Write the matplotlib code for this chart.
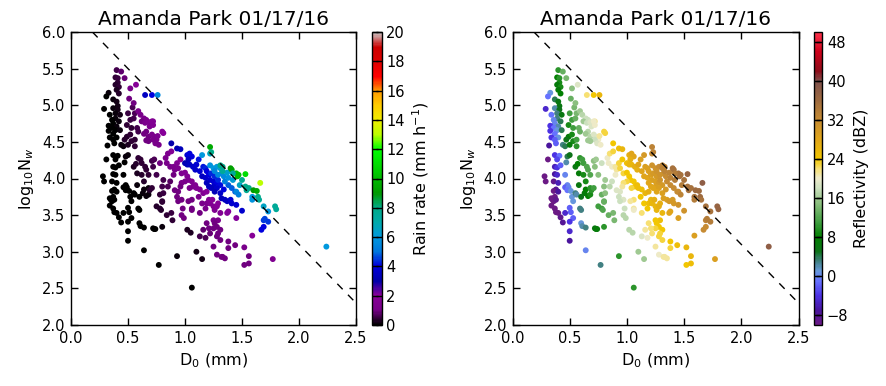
import numpy as np
import matplotlib
matplotlib.use("Agg")
import matplotlib.pyplot as plt
from matplotlib.colors import LinearSegmentedColormap, Normalize

# ---------------- data ----------------
title = "Amanda Park 01/17/16"

d0 = [
    # low-rate cluster
    0.40,0.44,0.39,0.41,0.47,0.41,0.39,0.42,0.40,0.42,
    0.33,0.31,0.37,0.40,0.41,0.29,0.37,0.41,0.39,0.43,
    0.34,0.39,0.36,0.42,0.37,0.33,0.40,0.36,0.39,0.33,
    0.43,0.37,0.34,0.40,0.37,0.38,0.32,0.44,0.46,0.37,
    0.41,0.31,0.39,0.48,0.50,0.37,0.39,0.42,0.47,0.28,
    0.29,0.37,0.39,0.46,0.36,0.40,0.48,0.46,0.49,0.38,
    0.36,0.40,0.48,0.51,0.37,0.34,0.35,0.36,0.38,0.52,
    0.55,0.56,0.53,0.34,0.37,0.38,0.40,0.42,0.46,0.44,
    0.50,0.51,0.53,0.50,0.50,0.50,0.59,0.60,0.60,0.61,
    0.64,0.72,0.73,0.74,0.80,0.64,0.77,0.93,1.06,1.02,
    1.05,1.10,1.15,0.66,0.63,0.60,0.58,0.64,0.68,0.68,
    # dark purple
    0.49,0.52,0.47,0.53,0.56,0.49,0.53,0.52,0.55,0.50,
    0.54,0.56,0.58,0.59,0.56,0.50,0.59,0.61,0.62,0.55,
    0.57,0.65,0.66,0.71,0.73,0.72,0.58,0.62,0.68,0.64,
    0.69,0.71,0.75,0.81,0.80,0.78,0.81,0.80,0.75,0.78,
    0.79,0.80,0.88,0.89,0.84,0.85,0.87,
    # purple
    0.52,0.57,0.51,0.55,0.59,0.61,0.64,0.66,0.62,0.65,
    0.68,0.72,0.69,0.72,0.71,0.66,0.64,0.68,0.71,0.73,
    0.75,0.72,0.74,0.68,0.76,0.80,0.81,0.77,0.66,0.83,
    0.85,0.88,0.78,0.84,0.87,0.90,0.91,0.93,0.96,0.94,
    0.90,0.97,1.00,1.02,1.03,1.00,0.97,0.96,0.94,0.91,
    0.93,0.97,0.94,0.98,0.97,0.99,1.06,1.07,1.09,1.10,
    1.04,1.13,1.06,1.03,1.06,1.06,1.13,1.15,1.18,1.19,
    1.21,1.22,1.24,1.25,1.26,1.28,1.29,1.31,1.29,1.25,
    1.26,1.28,1.25,1.31,1.29,1.28,1.31,1.25,1.28,1.33,
    1.35,1.32,1.38,1.38,1.44,1.52,1.56,1.52,1.56,1.59,
    1.77,1.45,1.37,1.38,1.18,1.13,1.21,1.16,1.22,1.19,
    1.12,1.16,1.19,
    # blue
    0.65,0.71,0.76,0.88,0.93,0.96,1.02,1.04,1.06,1.03,
    1.00,1.02,1.04,1.07,1.10,1.09,1.13,1.12,1.15,1.16,
    1.18,1.19,1.15,1.18,1.21,1.22,1.23,1.25,1.26,1.28,
    1.25,1.23,1.21,1.19,1.29,1.31,1.28,1.26,1.31,1.32,
    1.35,1.37,1.40,1.41,1.45,1.50,1.34,1.38,1.41,1.44,
    1.67,1.69,1.69,1.70,1.73,
    # light blue
    1.22,1.25,1.28,1.31,1.32,1.34,1.35,1.38,1.37,1.26,
    1.29,1.45,1.47,1.48,1.42,1.59,1.59,1.69,1.73,2.24,
    1.22,
    # teal / green
    1.22,1.23,1.31,1.33,1.40,1.41,1.45,1.47,1.53,1.46,
    1.53,1.56,1.54,1.60,1.63,1.64,1.65,1.66,1.79,1.80,
    1.33,1.42,1.50,
]

lognw = [
    5.48,5.46,5.38,5.37,5.37,5.31,5.28,5.25,5.21,5.16,
    5.17,5.12,5.08,5.05,4.99,4.95,4.96,4.94,4.89,4.87,
    4.87,4.82,4.80,4.78,4.75,4.72,4.71,4.69,4.66,4.65,
    4.66,4.61,4.56,4.56,4.53,4.48,4.45,4.46,4.44,4.32,
    4.31,4.26,4.26,4.30,4.32,4.16,4.15,4.18,4.22,4.03,
    3.96,4.06,4.05,4.05,3.96,3.94,3.91,3.88,3.88,3.85,
    3.83,3.82,3.84,3.83,3.75,3.73,3.71,3.69,3.71,3.75,
    3.80,3.78,3.69,3.63,3.59,3.54,3.53,3.47,3.53,3.40,
    3.60,3.54,3.46,3.41,3.28,3.15,3.59,3.57,3.39,3.35,
    3.33,3.32,3.31,3.31,3.34,3.02,2.82,2.94,2.51,3.30,
    3.26,3.00,2.90,3.76,3.80,3.75,3.91,3.85,3.78,3.87,
    4.57,4.60,4.53,4.51,4.53,4.73,4.69,4.80,4.82,4.89,
    4.97,4.89,4.69,4.64,4.44,4.46,4.28,4.26,4.21,4.16,
    4.20,4.16,4.12,4.24,4.26,4.16,4.07,4.05,4.05,3.96,
    3.84,3.87,4.05,3.98,3.89,3.78,3.80,3.69,3.62,3.59,
    3.57,3.68,3.53,3.43,3.50,3.89,3.96,
    5.23,5.28,5.09,5.03,4.92,4.87,4.82,4.80,4.78,4.76,
    4.77,4.78,4.71,4.73,4.78,4.64,4.61,4.57,4.60,4.57,
    4.53,4.53,4.48,4.51,4.58,4.64,4.62,4.46,4.52,4.28,
    4.34,4.37,4.21,4.21,4.16,4.16,4.12,4.21,4.26,4.14,
    4.05,4.07,4.08,4.03,3.98,3.96,3.94,3.89,3.82,3.84,
    3.75,3.71,3.69,3.59,3.50,3.46,3.96,3.89,3.91,3.87,
    3.87,3.85,3.71,3.69,3.59,3.57,3.53,3.66,3.59,3.66,
    3.71,3.66,3.71,3.62,3.57,3.62,3.66,3.53,3.43,3.43,
    3.39,3.34,3.32,3.30,3.25,3.21,3.16,3.07,2.96,2.93,
    2.91,2.93,3.14,3.05,3.09,3.06,2.94,2.82,2.84,3.22,
    2.90,3.46,3.53,3.55,3.19,3.21,3.32,3.30,3.25,3.39,
    3.75,3.80,3.82,
    5.14,5.14,5.14,4.48,4.41,4.40,4.32,4.34,4.30,4.26,
    4.21,4.19,4.19,4.16,4.19,4.12,4.10,4.26,4.32,4.16,
    4.14,4.10,4.03,4.01,4.05,3.98,4.07,3.96,4.03,3.94,
    3.89,3.87,3.89,3.94,3.98,3.91,3.87,3.82,3.80,3.73,
    3.71,3.69,3.71,3.66,3.64,3.56,3.85,3.91,3.87,3.82,
    3.30,3.34,3.43,3.45,3.41,
    4.18,4.14,4.16,4.14,4.07,4.03,3.96,4.01,4.08,4.10,
    4.05,3.82,3.78,3.91,3.98,3.75,3.71,3.62,3.55,3.07,
    4.34,
    4.43,4.36,4.18,4.16,4.14,4.12,4.07,4.05,4.06,4.03,
    3.89,3.87,3.84,3.84,3.83,3.75,3.71,3.94,3.62,3.58,
    4.10,4.07,3.98,
]

rain_rate = [
    0.55,0.8,0.45,0.5,0.9,0.45,0.35,0.4,0.3,0.35,
    0.1,0.07,0.15,0.2,0.2,0.04,0.12,0.18,0.13,0.2,
    0.06,0.1,0.07,0.14,0.07,0.04,0.09,0.05,0.07,0.03,
    0.11,0.05,0.03,0.06,0.04,0.04,0.02,0.08,0.09,0.03,
    0.04,0.01,0.03,0.08,0.1,0.02,0.02,0.03,0.06,0.004,
    0.004,0.014,0.017,0.04,0.01,0.015,0.03,0.026,0.034,0.01,
    0.007,0.011,0.028,0.037,0.007,0.004,0.005,0.005,0.007,0.033,
    0.05,0.05,0.03,0.003,0.005,0.005,0.006,0.006,0.011,0.007,
    0.02,0.019,0.019,0.013,0.009,0.007,0.04,0.04,0.03,0.03,
    0.033,0.056,0.06,0.063,0.1,0.016,0.025,0.08,0.054,0.28,
    0.29,0.19,0.19,0.1,0.09,0.065,0.08,0.11,0.13,0.15,
    0.35,0.4,0.35,0.4,0.45,0.4,0.45,0.5,0.6,0.5,
    0.7,0.7,0.55,0.55,0.4,0.3,0.4,0.45,0.45,0.3,
    0.35,0.45,0.45,0.6,0.65,0.55,0.3,0.35,0.45,0.35,
    0.35,0.4,0.55,0.6,0.55,0.45,0.5,0.45,0.35,0.35,
    0.35,0.45,0.5,0.45,0.4,0.65,0.75,
    1.1,1.8,1.0,1.0,1.1,1.1,1.2,1.3,1.0,1.2,
    1.4,1.7,1.3,1.6,1.6,1.0,1.0,1.0,1.2,1.2,
    1.3,1.1,1.1,1.0,1.4,2.0,2.0,1.2,1.0,1.2,
    1.4,1.7,1.0,1.1,1.1,1.3,1.2,1.6,2.0,1.4,
    1.0,1.4,1.6,1.6,1.5,1.3,1.1,1.0,1.0,1.0,
    1.0,1.0,1.0,1.0,1.0,1.0,1.6,1.5,1.6,1.6,
    1.2,1.7,1.0,1.0,1.0,1.0,1.0,1.2,1.2,1.4,
    1.7,1.6,1.9,1.6,1.5,1.8,2.0,1.6,1.2,1.1,
    1.0,1.0,1.0,1.0,1.0,1.0,1.0,1.0,1.0,1.0,
    1.0,1.0,1.0,1.0,1.0,1.1,1.0,1.0,1.0,1.9,
    1.5,2.1,2.0,2.1,0.7,0.6,1.0,0.8,0.9,1.0,
    1.3,1.7,2.0,
    3.5,4.0,5.5,3.0,3.2,3.3,3.8,4.0,4.0,3.5,
    3.2,3.3,3.5,3.6,3.8,3.6,3.8,4.2,6.0,4.2,
    4.3,4.0,3.5,3.6,4.0,3.8,4.3,3.8,4.3,4.0,
    3.6,3.4,3.4,3.4,4.3,4.1,3.7,3.3,3.6,3.3,
    3.5,3.5,3.8,3.7,3.8,3.7,4.0,4.8,4.8,4.7,
    4.0,4.0,4.5,4.6,4.5,
    5.8,6.0,6.0,6.3,5.8,5.6,5.3,5.8,6.3,5.5,
    5.5,5.5,5.3,6.5,6.2,6.0,5.8,6.5,6.0,6.0,
    6.5,
    9.5,8.0,8.0,8.0,9.0,9.3,10.0,10.0,11.0,10.0,
    8.0,8.0,7.8,9.0,9.5,8.0,7.6,13.0,7.5,7.5,
    7.5,7.5,7.8,
]

reflectivity = [
    10,13,8,10,14,9,7,9,7,8,
    1,-1,4,6,6,-5,2,5,3,6,
    -1,3,0,4,0,-4,2,-1,1,-4,
    4,-1,-4,1,-2,-2,-7,3,4,-4,
    -1,-10,-3,4,5,-6,-4,-2,2,-15,
    -15,-7,-5,0,-9,-6,0,-2,0,-8,
    -10,-7,-1,1,-10,-12,-12,-11,-9,1,
    3,2,1,-13,-11,-11,-10,-9,-5,-8,
    -2,-2,-2,-4,-5,-7,3,3,1,2,
    3,6,7,7,10,0,3,10,10,17,
    17,16,16,8,7,5,6,8,9,10,
    7,9,5,9,11,9,11,11,13,11,
    14,14,13,13,10,7,10,11,11,6,
    8,12,12,15,16,15,7,9,12,9,
    10,11,15,16,15,13,15,13,11,11,
    12,13,14,14,13,17,18,
    15,19,13,15,16,17,18,18,16,18,
    19,21,19,20,20,17,16,17,19,19,
    20,18,19,16,21,23,23,20,16,20,
    22,23,18,20,20,21,21,23,24,23,
    20,23,24,24,24,23,22,21,19,19,
    18,19,18,18,17,17,24,24,25,25,
    23,25,22,21,21,20,22,24,24,25,
    26,26,27,26,26,27,27,26,25,24,
    24,24,23,24,23,23,23,21,20,21,
    21,21,24,23,25,26,26,24,25,29,
    29,29,28,28,20,19,22,21,22,22,
    24,26,27,
    22,24,26,24,25,26,27,28,28,27,
    25,26,26,27,28,27,28,29,30,29,
    29,29,28,28,29,29,30,29,30,30,
    29,28,28,28,31,30,29,28,29,29,
    29,30,30,30,31,31,30,32,32,32,
    32,32,33,34,34,
    31,31,32,33,32,32,32,33,33,31,
    31,32,33,34,34,35,34,35,35,38,
    32,
    33,33,33,33,35,35,35,35,37,35,
    35,35,35,36,36,36,35,38,37,37,
    33,34,35,
]

# reference separation line  log10Nw = 6.3 - 1.6 D0
line_intercept = 6.3
line_slope = -1.6

rain_ticks = [0, 2, 4, 6, 8, 10, 12, 14, 16, 18, 20]
refl_ticks = [-8, 0, 8, 16, 24, 32, 40, 48]

assert len(d0) == len(lognw) == len(rain_rate) == len(reflectivity), \
    (len(d0), len(lognw), len(rain_rate), len(reflectivity))

# ---------------- styling ----------------
plt.rcParams['font.family'] = ['DejaVu Sans']
plt.rcParams['mathtext.fontset'] = 'dejavusans'

refl_stops = [
    (-10, (0.42, 0.10, 0.52)), (-7, (0.28, 0.08, 0.62)), (-4, (0.30, 0.20, 0.90)),
    (-1, (0.40, 0.45, 1.00)), (1, (0.40, 0.60, 0.85)), (3, (0.25, 0.50, 0.50)),
    (5, (0.05, 0.45, 0.10)), (8, (0.00, 0.50, 0.00)), (11, (0.25, 0.62, 0.25)),
    (15, (0.55, 0.75, 0.50)), (18, (0.80, 0.88, 0.75)), (20, (0.93, 0.92, 0.80)),
    (22, (0.97, 0.88, 0.45)), (24, (0.95, 0.78, 0.00)), (28, (0.88, 0.65, 0.10)),
    (32, (0.78, 0.55, 0.20)), (36, (0.62, 0.42, 0.25)), (40, (0.50, 0.32, 0.30)),
    (42, (0.55, 0.05, 0.10)), (46, (0.80, 0.00, 0.10)), (50, (1.00, 0.20, 0.30)),
]
zmin, zmax = -10, 50
refl_cmap = LinearSegmentedColormap.from_list(
    'refl', [((v - zmin) / (zmax - zmin), c) for v, c in refl_stops])

fig = plt.figure(figsize=(8.86, 3.86), dpi=100)
W, H = 886.0, 386.0
ax_bottom = (H - 325) / H
ax_height = 293 / H
ax1 = fig.add_axes([71 / W, ax_bottom, 285 / W, ax_height])
cax1 = fig.add_axes([372 / W, ax_bottom, 9.5 / W, ax_height])
ax2 = fig.add_axes([512.5 / W, ax_bottom, 286 / W, ax_height])
cax2 = fig.add_axes([813.5 / W, ax_bottom, 8.5 / W, ax_height])

xs_line = np.array([0.0, 2.5])

panels = [
    (ax1, cax1, rain_rate, plt.get_cmap('nipy_spectral'), Normalize(0, 20),
     rain_ticks, r'Rain rate (mm h$^{-1}$)'),
    (ax2, cax2, reflectivity, refl_cmap, Normalize(zmin, zmax),
     refl_ticks, 'Reflectivity (dBZ)'),
]

for ax, cax, cvals, cmap, norm, cticks, clabel in panels:
    sc = ax.scatter(d0, lognw, c=cvals, cmap=cmap, norm=norm, s=18,
                    edgecolors='none', zorder=2)
    ax.plot(xs_line, line_intercept + line_slope * xs_line, color='black',
            linestyle=(0, (5.5, 5.5)), linewidth=1.0, zorder=3)
    ax.set_xlim(0, 2.5)
    ax.set_ylim(2.0, 6.0)
    ax.set_xticks(np.arange(0, 2.51, 0.5))
    ax.set_yticks(np.arange(2.0, 6.01, 0.5))
    ax.xaxis.set_major_formatter(matplotlib.ticker.FormatStrFormatter('%.1f'))
    ax.yaxis.set_major_formatter(matplotlib.ticker.FormatStrFormatter('%.1f'))
    ax.tick_params(direction='in', top=True, right=True, length=5, width=1,
                   labelsize=10.5, pad=4)
    for sp in ax.spines.values():
        sp.set_linewidth(1.0)
    ax.set_title(title, fontsize=14.5, pad=5)
    ax.set_xlabel(r'D$_0$ (mm)', fontsize=11.5)
    ax.set_ylabel(r'log$_{10}$N$_w$', fontsize=11.5)

    cb = fig.colorbar(sc, cax=cax, ticks=cticks)
    cb.outline.set_linewidth(1.0)
    cb.ax.tick_params(direction='in', length=4, width=1, labelsize=10.5,
                      left=True, right=True)
    cb.set_label(clabel, fontsize=11.5)

fig.savefig('out.png', dpi=100, facecolor='white')
